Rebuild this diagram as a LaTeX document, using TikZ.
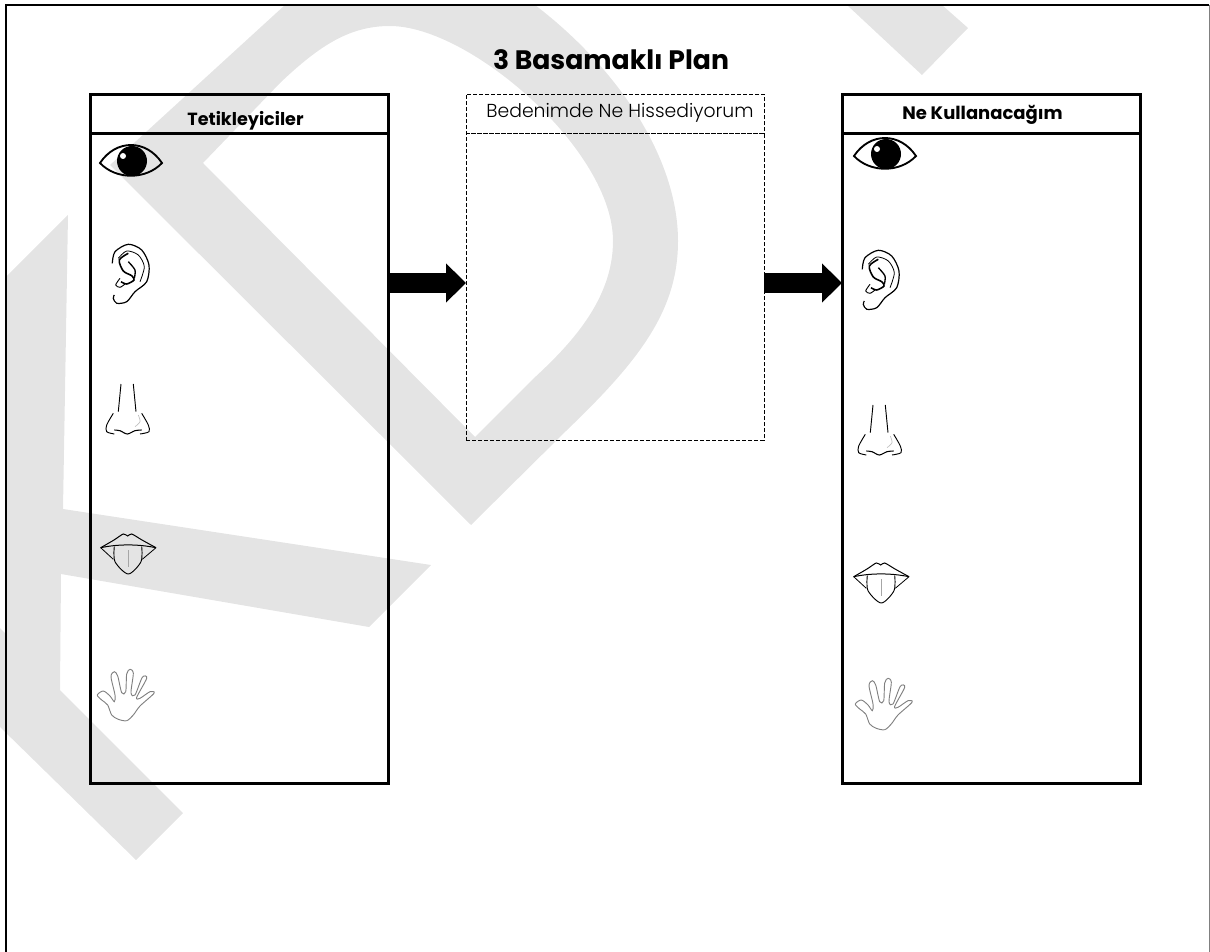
\documentclass[tikz,border=0pt]{standalone}
\usepackage{fontspec}
\setmainfont{Poppins}
\newfontfamily\lightfont{Poppins Light}
\usepackage{xcolor}
\usepackage{tikz}
\usetikzlibrary{positioning,arrows.meta}
\definecolor{markgray}{HTML}{E4E4E4}

\begin{document}
\begin{tikzpicture}[x=0.75pt,y=-0.75pt,
    node distance=58.5pt,
    headbox/.style={%
      rectangle, draw=black, line width=2.25pt, outer sep=0pt, inner sep=0pt,
      minimum width=223.5pt, minimum height=29.25pt
    },
    bodybox/.style={%
      headbox, minimum height=487.5pt
    },
    dashhead/.style={%
      headbox, line width=0.75pt, dash pattern=on 3pt off 1.5pt
    },
    dashbody/.style={%
      dashhead, minimum height=230pt
    },
    headtext/.style={%
      font=\bfseries\fontsize{13.2}{15}\selectfont, inner sep=0pt
    },
    blockarrow/.style={%
      line width=15pt, -{Triangle[length=15pt,width=28.5pt]}, draw=black
    },
    eyeicon/.pic={
      \draw[line width=1.4pt] (-31,2) .. controls (-15,-22) and (15,-22) .. (31,2)
         .. controls (15,19) and (-15,19) .. cycle;
      \fill[black] (1,0) circle (15);
      \fill[white] (-8,-5) circle (3);
    },
    earicon/.pic={
      \draw[line width=0.9pt] plot[smooth] coordinates {(-18.7,-10.7) (-16,-22.3) (-2.7,-29.7) (10.7,-24) (18,-9) (15.7,7.7) (4,17.7) (-4.3,27.7) (-14.3,29.3) (-17.7,24.3) (-16.7,21)};
      \draw[line width=0.6pt] plot[smooth] coordinates {(-12.7,-15.7) (-4.3,-23) (7.3,-19) (13.3,-7.3) (9,7.7)};
      \draw[line width=1.2pt] plot[smooth] coordinates {(-2.7,-20.7) (-11.7,-14) (-7.7,-3) (0.7,1.7) (3,6) (-4.3,10) (-10,7.7)};
      \draw[line width=1pt] plot[smooth] coordinates {(-2.7,-12.3) (4,-4) (3.3,4.3)};
      \draw[line width=0.7pt] plot[smooth] coordinates {(-11,4.3) (-15.3,11) (-11,13.3) (-6,10)};
    },
    noseicon/.pic={
      \draw[line width=0.7pt] (-6.5,-26) -- (-9.2,1.7);
      \draw[line width=0.7pt] (5.8,-26) -- (8.5,1.7);
      \draw[line width=0.7pt] plot[smooth] coordinates {(-14.2,3.3) (-20.8,15) (-20.8,21.7) (-13.2,24)};
      \draw[line width=0.7pt] plot[smooth] coordinates {(14.2,3.3) (20.8,15) (21.5,21.7) (12.5,24)};
      \draw[line width=0.8pt] plot[smooth] coordinates {(-13.2,20) (-7.5,20.7) (-0.2,24) (7.5,20.7) (14.2,20)};
      \draw[gray!50, line width=0.5pt] plot[smooth] coordinates {(10.8,5) (12.5,11.7) (7.5,16.7)};
    },
    tongueicon/.pic={
      \draw[line width=0.75pt] plot[smooth] coordinates {(-27.3,-5.3) (-14,-13) (-4.7,-19) (-0.3,-17) (3.7,-19) (14,-13) (28,-5.3)};
      \draw[line width=0.75pt] (-27.3,-5.3) .. controls (-10,-9) and (10,-9) .. (28,-5.3);
      \draw[line width=0.6pt] (-27.3,-5.3) -- (-14.7,6.3);
      \draw[line width=0.6pt] (28,-5.3) -- (14.3,6.3);
      \draw[line width=0.7pt] plot[smooth] coordinates {(-13.7,-6.3) (-13,8.7) (0.3,21) (13,8.7) (13.7,-6.3)};
      \draw[gray!70, line width=0.9pt] (0.3,-3) -- (0.3,13.7);
    },
    handicon/.pic={
      \draw[black!50, line width=0.7pt] plot[smooth cycle, tension=0.5] coordinates {(-28.7,0) (-22.7,-4) (-16,1) (-11.7,6.7) (-11,0)
        (-15,-18.3) (-11.7,-23.3) (-8.3,-19) (-4.3,-2.3) (-0.3,-3.3) (0.7,-21) (4,-25.7) (7.3,-21.7) (5,-2.3) (9,0)
        (16.3,-17.7) (20.7,-16.7) (10.7,2.3) (14,3.3) (24,-3.3) (28,-1.7) (14,11) (7.3,20) (0.7,25.7) (-7.7,24.3)
        (-14.3,20) (-18.3,10) (-24.3,5)};
    }
]
    \useasboundingbox (0,0) rectangle (1210,952);

    % watermark
    \fill[markgray] (68,215) -- (5,278) -- (5,633) -- (0,628) -- (0,727) -- (136,860) -- (183,813) -- (60,690)
       -- (61,574) -- (369,627) -- (431,565) -- (63,509) -- cycle;
    \fill[markgray, even odd rule] (285,5) -- (110,165) -- (471,525) -- (567,430)
       .. controls (640,360) and (678,310) .. (678,241)
       .. controls (678,160) and (620,70) .. (535,5) -- cycle
       (203,163) -- (280,83) .. controls (320,45) and (350,26) .. (390,26)
       .. controls (470,26) and (613,150) .. (613,241)
       .. controls (613,300) and (570,345) .. (533,379) -- (475,437) -- cycle;
    \fill[markgray] (847,5) -- (942,5) -- (968,28) -- (922,75) -- cycle;

    % page frame
    \draw[line width=1.5pt] (6,952) -- (6,5) -- (1209,5);
    \draw[gray, line width=0.75pt] (1209,5) -- (1209,952);

    \node[headbox]  (trighead) at (239,114)      {};
    \node[bodybox]  (trigbody) [below = 0pt of trighead] {};
    \node[dashhead] (feelhead) [right = of trighead]     {};
    \node[dashbody] (feelbody) [below = 0pt of feelhead] {};
    \node[headbox]  (usehead)  [right = of feelhead]     {};
    \node[bodybox]  (usebody)  [below = 0pt of usehead]  {};

    \node[font=\bfseries\fontsize{20}{23}\selectfont, inner sep=0pt] (title) at (611,60) {3 Basamaklı Plan};
    \node[headtext] (trigtext) at (245.5,121) {Tetikleyiciler};
    \node[headtext, font=\bfseries\fontsize{13.5}{15}\selectfont] (usetext) at (982.5,115) {Ne Kullanacağım};
    \node[font=\lightfont\fontsize{14.1}{16}\selectfont, inner sep=0pt] (feeltext) at (620,113) {Bedenimde Ne Hissediyorum};

    \coordinate (level) at (0,283);
    \path (trigbody.east |- level) edge[blockarrow] (feelbody.west |- level)
          (feelbody.east |- level) edge[blockarrow] (usebody.west |- level);

    \pic at (131,161) {eyeicon};
    \pic at (131,274) {earicon};
    \pic at (127.5,410) {noseicon};
    \pic at (128,553) {tongueicon};
    \pic at (126,695) {handicon};

    \pic at (885,154) {eyeicon};
    \pic at (881,280) {earicon};
    \pic at (879.5,431) {noseicon};
    \pic at (881,582) {tongueicon};
    \pic at (884,704) {handicon};

\end{tikzpicture}
\end{document}
